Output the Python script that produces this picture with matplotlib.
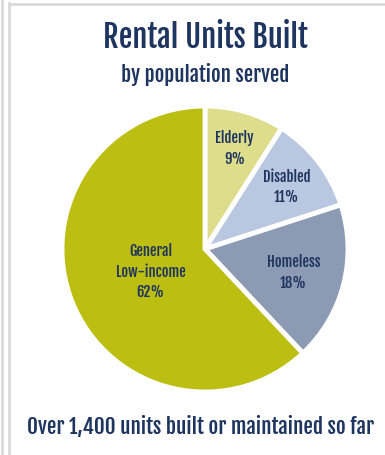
import numpy as np
import matplotlib.pyplot as plt
from matplotlib import font_manager

groups = ['Elderly', 'Disabled', 'Homeless', 'General\nLow-income']
shares = [9, 11, 18, 62]
colors = ['#dedd8c', '#b9c8e0', '#8c9bb3', '#bcbe12']
label_dist = [0.74, 0.72, 0.64, 0.41]

title = 'Rental Units Built'
subtitle = 'by population served'
footer = 'Over 1,400 units built or maintained so far'

navy = '#1e3560'

# condensed headline font, whichever is around
names = {f.name for f in font_manager.fontManager.ttflist}
fam = 'DejaVu Sans'
for cand in ['Fjalla One', 'Oswald', 'Barlow Condensed', 'Roboto Condensed']:
    if cand in names:
        fam = cand
        break
tkw = dict(family=fam, fontweight='bold', fontstretch='condensed', color=navy)

W, H = 385, 456
fig = plt.figure(figsize=(W / 100, H / 100), dpi=100)
ax = fig.add_axes([0, 0, 1, 1])

# frame lines of the original screenshot
ax.plot([1.5, 1.5], [0, H], color='#d9d9d9', lw=2)
ax.plot([8.5, 8.5], [0, H - 4], color='#d9d9d9', lw=2)
ax.plot([8.5, W], [H - 4.5, H - 4.5], color='#d9d9d9', lw=2)

cx, cy, r = 205, H - 250, 143
wedges, _ = ax.pie(shares, colors=colors, startangle=90, counterclock=False,
                   center=(cx, cy), radius=r,
                   wedgeprops=dict(edgecolor='white', linewidth=3.5))
ax.set_xlim(0, W)
ax.set_ylim(0, H)
ax.set_aspect('equal')
ax.axis('off')

for w, g, s, d in zip(wedges, groups, shares, label_dist):
    ang = np.deg2rad((w.theta1 + w.theta2) / 2)
    ax.text(cx + d * r * np.cos(ang), cy + d * r * np.sin(ang), f'{g}\n{s}%',
            ha='center', va='center', fontsize=10.5, linespacing=1.35, **tkw)

fig.text(205 / W, 1 - 38 / H, title, ha='center', va='center', fontsize=22, **tkw)
fig.text(205 / W, 1 - 75 / H, subtitle, ha='center', va='center', fontsize=15, **tkw)
fig.text(201 / W, 1 - 427 / H, footer, ha='center', va='center', fontsize=15.2, **tkw)

fig.savefig('out.png', dpi=100)
